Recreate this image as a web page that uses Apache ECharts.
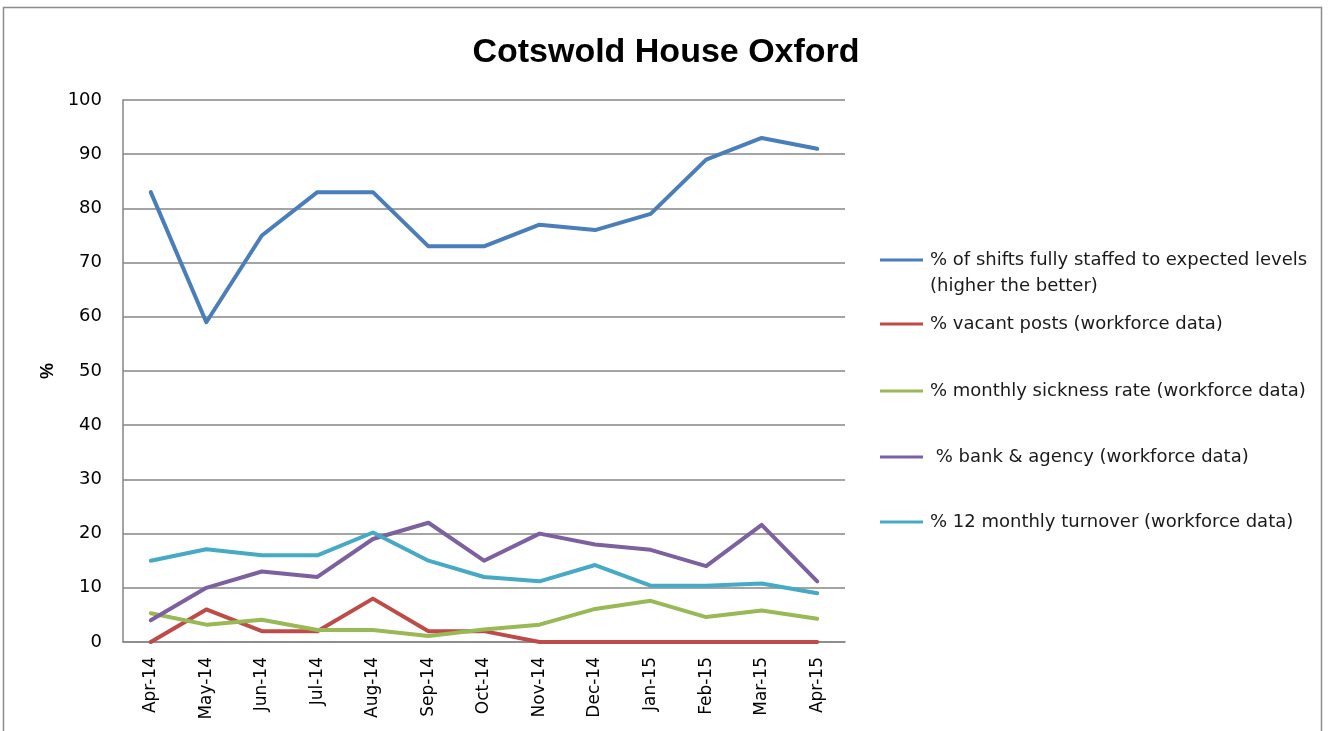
<!DOCTYPE html>
<html><head><meta charset="utf-8">
<script src="https://cdn.jsdelivr.net/npm/echarts@6/dist/echarts.min.js"></script>
<style>html,body{margin:0;padding:0;background:#fff}#c{width:1332px;height:731px}</style>
</head><body><div id="c"></div>
<script>
const categories = ['Apr-14','May-14','Jun-14','Jul-14','Aug-14','Sep-14','Oct-14','Nov-14','Dec-14','Jan-15','Feb-15','Mar-15','Apr-15'];
const seriesNames = [
  '% of shifts fully staffed to expected levels (higher the better)',
  '% vacant posts (workforce data)',
  '% monthly sickness rate (workforce data)',
  ' % bank & agency (workforce data)',
  '% 12 monthly turnover (workforce data)'
];
const legendLine1 = '% of shifts fully staffed to expected levels';
const legendLine2 = '(higher the better)';
const shiftsStaffed = [83, 59, 75, 83, 83, 73, 73, 77, 76, 79, 89, 93, 91];
const vacantPosts = [0, 6, 2, 2, 8, 2, 2, 0, 0, 0, 0, 0, 0];
const sicknessRate = [5.3, 3.2, 4.1, 2.2, 2.2, 1.1, 2.3, 3.2, 6.1, 7.6, 4.6, 5.8, 4.3];
const bankAgency = [4, 10, 13, 12, 19, 22, 15, 20, 18, 17, 14, 21.6, 11.2];
const turnover = [15, 17.1, 16, 16, 20.2, 15, 12, 11.2, 14.2, 10.4, 10.4, 10.8, 9];
const yTicks = [0, 10, 20, 30, 40, 50, 60, 70, 80, 90, 100];

const colors = ['#4A7EBB', '#BE4B48', '#98B954', '#7D60A0', '#46AAC5'];
const dataArr = [shiftsStaffed, vacantPosts, sicknessRate, bankAgency, turnover];
const font = 'Liberation Sans, Arial, sans-serif';
const wideFont = 'DejaVu Sans, Verdana, sans-serif';

const chart = echarts.init(document.getElementById('c'), null, {renderer: 'canvas'});
const legendTops = [242, 306, 373, 439, 504];
const legends = seriesNames.map((n, i) => ({
  data: [n],
  orient: 'vertical',
  left: 875,
  top: legendTops[i],
  itemWidth: 43,
  itemHeight: 3,
  icon: 'path://M0,0 L43,0 L43,3 L0,3 Z',
  selectedMode: false,
  formatter: function (name) { return i === 0 ? legendLine1 : name; },
  textStyle: {
    fontFamily: wideFont, fontSize: 18, color: '#1a1a1a', lineHeight: 26,
    padding: [0, 0, 0, 2]
  }
}));

chart.setOption({
  animation: false,
  backgroundColor: '#fff',
  title: {
    text: 'Cotswold House Oxford', left: 'center', top: 31,
    textStyle: {fontFamily: font, fontSize: 34, fontWeight: 'bold', color: '#000'}
  },
  graphic: [{
    type: 'rect', shape: {x: 3.5, y: 7.5, width: 1318, height: 760},
    style: {fill: null, stroke: '#8c8c8c', lineWidth: 1.5}, silent: true
  }, {
    type: 'text', left: 930, top: 277, silent: true,
    style: {text: legendLine2, font: '18px ' + wideFont, fill: '#1a1a1a'}
  }],
  legend: legends,
  grid: {left: 123, right: 487, top: 100, bottom: 89},
  xAxis: {
    type: 'category', data: categories, boundaryGap: true,
    axisLine: {lineStyle: {color: '#868686', width: 1.5}},
    axisTick: {show: false},
    axisLabel: {rotate: 90, fontFamily: wideFont, fontSize: 17, color: '#000', margin: 15}
  },
  yAxis: {
    type: 'value', min: yTicks[0], max: yTicks[yTicks.length - 1], interval: 10,
    name: '%', nameLocation: 'middle', nameGap: 66, nameRotate: 90,
    nameTextStyle: {fontFamily: font, fontSize: 18, fontWeight: 'bold', color: '#000'},
    axisLine: {show: true, lineStyle: {color: '#868686', width: 1.5}},
    axisTick: {show: false},
    splitLine: {lineStyle: {color: '#868686', width: 1.5}},
    axisLabel: {fontFamily: wideFont, fontSize: 18, color: '#000', margin: 21}
  },
  series: seriesNames.map((n, i) => ({
    name: n, type: 'line', data: dataArr[i], symbol: 'none',
    lineStyle: {color: colors[i], width: 4, cap: 'round', join: 'round'},
    itemStyle: {color: colors[i]}
  }))
});
</script></body></html>
